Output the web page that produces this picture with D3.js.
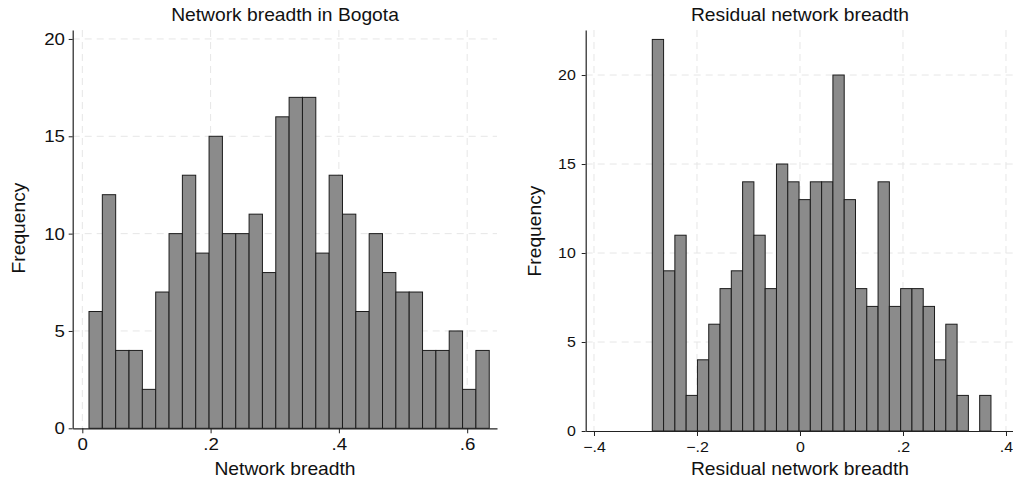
<!DOCTYPE html>
<html>
<head>
<meta charset="utf-8">
<script src="https://cdn.jsdelivr.net/npm/d3@7"></script>
<style>
  body { margin: 0; background: #fff; }
  svg { display: block; font-family: "Liberation Sans", Arial, sans-serif; }
</style>
</head>
<body>
<svg id="chart"></svg>
<script>
// data
const leftCounts = [6, 12, 4, 4, 2, 7, 10, 13, 9, 15, 10, 10, 11, 8, 16, 17, 17, 9, 13, 11, 6, 10, 8, 7, 7, 4, 4, 5, 2, 4];
const leftBinStart = 0.0104;
const leftBinWidth = 0.0208;
const leftXTicks = [0, 0.2, 0.4, 0.6];
const leftYTicks = [0, 5, 10, 15, 20];

const rightCounts = [22, 9, 11, 2, 4, 6, 8, 9, 14, 11, 8, 15, 14, 13, 14, 14, 20, 13, 8, 7, 14, 7, 8, 8, 7, 4, 6, 2, 0, 2];
const rightBinStart = -0.2868;
const rightBinWidth = 0.02192;
const rightXTicks = [-0.4, -0.2, 0, 0.2, 0.4];
const rightYTicks = [0, 5, 10, 15, 20];

// constants
const width = 1013;
const height = 485;
const stretch = 'scale(1.1,1)';

const svg = d3.select('#chart')
  .attr('width', width)
  .attr('height', height);

// stata style labels: .2 instead of 0.2
const fmt = d => d === 0 ? '0' : d3.format('.1f')(d).replace('0.', '.');

function drawPanel(p) {
  const x = d3.scaleLinear().domain(p.xDomain).range(p.xRange);
  const y = d3.scaleLinear().domain(p.yDomain).range(p.yRange);
  const g = svg.append('g');

  // dashed grid
  g.selectAll('.hgrid')
    .data(p.yTicks.filter(d => d > 0))
    .enter().append('line')
    .attr('x1', p.xRange[0]).attr('x2', p.xRange[1])
    .attr('y1', d => y(d)).attr('y2', d => y(d))
    .attr('stroke', '#e6e6e6')
    .attr('stroke-dasharray', '7,5');

  g.selectAll('.vgrid')
    .data(p.xTicks)
    .enter().append('line')
    .attr('x1', d => x(d)).attr('x2', d => x(d))
    .attr('y1', p.yRange[1]).attr('y2', p.yRange[0])
    .attr('stroke', '#e6e6e6')
    .attr('stroke-dasharray', '7,5');

  // bars
  const bins = p.counts.map((c, i) => ({
    x0: p.binStart + i * p.binWidth,
    x1: p.binStart + (i + 1) * p.binWidth,
    count: c
  })).filter(d => d.count > 0);

  g.selectAll('.bar')
    .data(bins)
    .enter().append('rect')
    .attr('x', d => x(d.x0))
    .attr('y', d => y(d.count))
    .attr('width', d => x(d.x1) - x(d.x0))
    .attr('height', d => y(0) - y(d.count))
    .attr('fill', '#8b8b8b')
    .attr('stroke', '#1c1c1c')
    .attr('stroke-width', 1);

  // axes
  const yAxis = g.append('g')
    .attr('transform', `translate(${p.xRange[0]},0)`)
    .call(d3.axisLeft(y).tickValues(p.yTicks).tickFormat(d3.format('d'))
      .tickSize(4).tickSizeOuter(0).tickPadding(p.yPad));

  const xAxis = g.append('g')
    .attr('transform', `translate(0,${p.yRange[0]})`)
    .call(d3.axisBottom(x).tickValues(p.xTicks).tickFormat(fmt)
      .tickSize(5).tickSizeOuter(0).tickPadding(p.xPad));

  [yAxis, xAxis].forEach(a => {
    a.select('.domain').attr('stroke', '#222').attr('stroke-width', 1.2);
    a.selectAll('.tick line').attr('stroke', '#222');
    a.selectAll('.tick text')
      .attr('fill', '#111')
      .attr('font-size', p.tickFont + 'px')
      .attr('transform', stretch);
  });

  // titles
  g.append('text')
    .attr('transform', `translate(${p.titleX},21) ${stretch}`)
    .attr('text-anchor', 'middle')
    .attr('font-size', '17.5px')
    .attr('fill', '#111')
    .text(p.title);

  g.append('text')
    .attr('transform', `translate(${p.titleX},475) ${stretch}`)
    .attr('text-anchor', 'middle')
    .attr('font-size', '17.5px')
    .attr('fill', '#111')
    .text(p.xLabel);

  g.append('text')
    .attr('transform', `translate(${p.yLabelX},${p.yLabelY}) rotate(-90) ${stretch}`)
    .attr('text-anchor', 'middle')
    .attr('font-size', '17.5px')
    .attr('fill', '#111')
    .text('Frequency');
}

drawPanel({
  counts: leftCounts, binStart: leftBinStart, binWidth: leftBinWidth,
  xTicks: leftXTicks, yTicks: leftYTicks,
  xDomain: [-0.015, 0.6465], xRange: [72.7, 497],
  yDomain: [0, 20.46], yRange: [428.3, 30],
  tickFont: 17, yPad: 3, xPad: 5,
  title: 'Network breadth in Bogota', xLabel: 'Network breadth',
  titleX: 285, yLabelX: 25, yLabelY: 228
});

drawPanel({
  counts: rightCounts, binStart: rightBinStart, binWidth: rightBinWidth,
  xTicks: rightXTicks, yTicks: rightYTicks,
  xDomain: [-0.4161, 0.4136], xRange: [585.7, 1013],
  yDomain: [0, 22.53], yRange: [431, 30],
  tickFont: 14.5, yPad: 5, xPad: 5.5,
  title: 'Residual network breadth', xLabel: 'Residual network breadth',
  titleX: 800, yLabelX: 541, yLabelY: 231
});
</script>
</body>
</html>
